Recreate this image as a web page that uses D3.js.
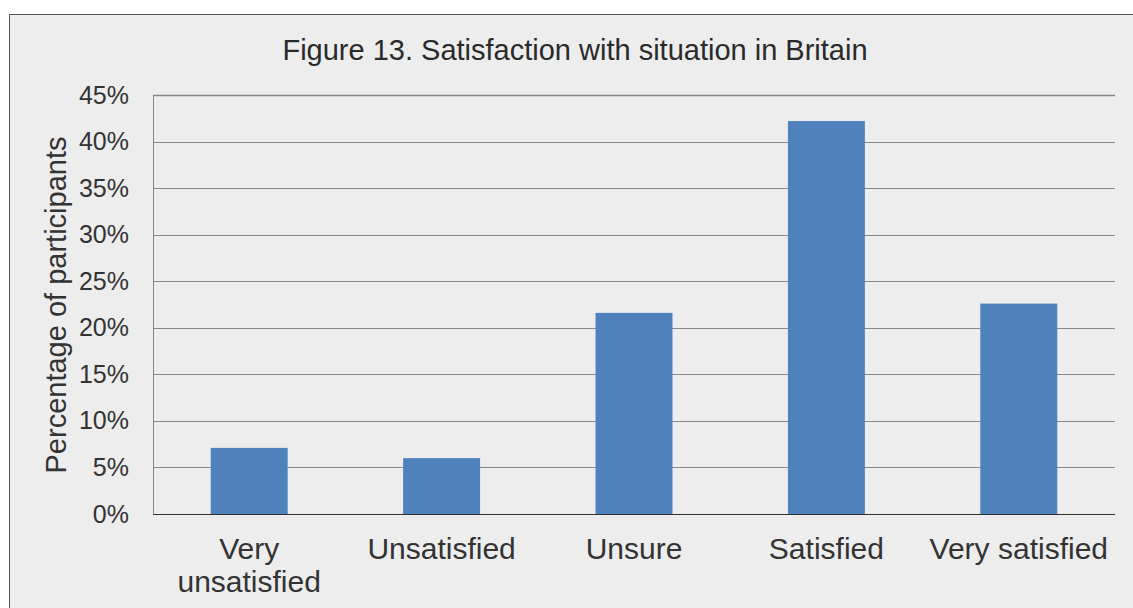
<!DOCTYPE html>
<html><head><meta charset="utf-8">
<script src="https://cdn.jsdelivr.net/npm/d3@7"></script>
<style>html,body{margin:0;padding:0;background:#fff;}svg{display:block;font-family:"Liberation Sans",Arial,sans-serif;}</style>
</head><body>
<script>
const categories = ["Very unsatisfied","Unsatisfied","Unsure","Satisfied","Very satisfied"];
const categoryLines = [["Very","unsatisfied"],["Unsatisfied"],["Unsure"],["Satisfied"],["Very satisfied"]];
const values = [7.1, 6.0, 21.6, 42.2, 22.6];
const yTicks = [0,5,10,15,20,25,30,35,40,45];
const title = "Figure 13. Satisfaction with situation in Britain";
const yTitle = "Percentage of participants";

(function(){
const W = 1133, H = 608;
const svg = d3.select("body").append("svg").attr("width", W).attr("height", H);
svg.append("rect").attr("x", 9.5).attr("y", 14.5).attr("width", W + 10).attr("height", H + 10)
  .attr("fill", "#ededed").attr("stroke", "#555").attr("stroke-width", 1);

const pL = 153, pR = 1115, pT = 95, pB = 514;
const x = d3.scaleBand().domain(categories).range([pL, pR]).padding(0);
const y = d3.scaleLinear().domain([0, 45]).range([pB, pT]);

// gridlines
svg.append("g").selectAll("line").data(yTicks.filter(d => d > 0)).join("line")
  .attr("x1", pL).attr("x2", pR)
  .attr("y1", d => Math.round(y(d)) + 0.5).attr("y2", d => Math.round(y(d)) + 0.5)
  .attr("stroke", "#878787").attr("stroke-width", d => d === 45 ? 1.6 : 1);

// bars
const bw = x.bandwidth() * 0.4;
svg.append("g").selectAll("rect").data(values).join("rect")
  .attr("x", (d, i) => x(categories[i]) + (x.bandwidth() - bw) / 2)
  .attr("width", bw)
  .attr("y", d => y(d))
  .attr("height", d => y(0) - y(d))
  .attr("fill", "#4f81bd");

// axes lines
svg.append("line").attr("x1", pL + 0.5).attr("x2", pL + 0.5).attr("y1", pT).attr("y2", pB)
  .attr("stroke", "#878787");
svg.append("line").attr("x1", pL).attr("x2", pR).attr("y1", pB + 0.5).attr("y2", pB + 0.5)
  .attr("stroke", "#333").attr("stroke-width", 1);

// y tick labels
const yAxis = d3.axisLeft(y).tickValues(yTicks).tickFormat(d => d + "%").tickSize(0).tickPadding(24);
const ga = svg.append("g").attr("transform", `translate(${pL},0)`).call(yAxis);
ga.select(".domain").remove();
ga.selectAll("text").attr("font-size", 25).attr("fill", "#333").attr("font-family", "Liberation Sans, Arial, sans-serif");

// x labels
const gx = svg.append("g");
categories.forEach((c, i) => {
  const cx = x(c) + x.bandwidth() / 2;
  const t = gx.append("text").attr("x", cx).attr("y", 559)
    .attr("text-anchor", "middle").attr("font-size", 30).attr("fill", "#333");
  categoryLines[i].forEach((ln, j) => {
    t.append("tspan").attr("x", cx).attr("dy", j === 0 ? 0 : 33).text(ln);
  });
});

// title
svg.append("text").attr("x", 575).attr("y", 60).attr("text-anchor", "middle")
  .attr("font-size", 29).attr("fill", "#2a2a2a").text(title);

// y title
svg.append("text").attr("transform", "translate(66,305) rotate(-90)").attr("text-anchor", "middle")
  .attr("font-size", 29).attr("fill", "#333").text(yTitle);
})();
</script>
</body></html>
